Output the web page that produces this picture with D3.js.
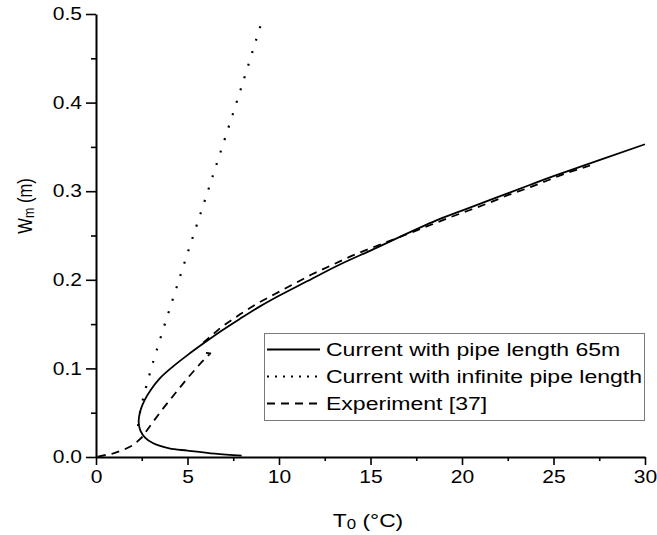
<!DOCTYPE html>
<html>
<head>
<meta charset="utf-8">
<script src="https://cdn.jsdelivr.net/npm/d3@7"></script>
<style>
  html, body { margin: 0; padding: 0; background: #fff; }
  svg text { font-family: "Liberation Sans", Arial, sans-serif; fill: #000; }
</style>
</head>
<body>
<svg id="chart" width="657" height="535"></svg>
<script>
// Freezing depth W_m against inlet temperature T_0
const pipe65T = [7.96, 6.5, 5.0, 4.0, 3.13, 2.68, 2.42, 2.33, 2.42, 2.65, 3.0, 3.5, 4.2, 5.0, 5.86, 6.86, 7.87, 8.96, 10.0, 11.5, 13.3, 15.0, 18.6, 20.0, 23.7, 25.0, 30.0];
const pipe65W = [0.0015, 0.0037, 0.0072, 0.0098, 0.0155, 0.022, 0.030, 0.040, 0.052, 0.064, 0.076, 0.089, 0.102, 0.115, 0.128, 0.1425, 0.156, 0.170, 0.182, 0.198, 0.217, 0.233, 0.267, 0.278, 0.307, 0.317, 0.353];

const infiniteT = [2.3, 2.4, 2.95, 4.59, 6.3, 8.0, 9.02];
const infiniteW = [0.035, 0.05, 0.095, 0.2035, 0.312, 0.421, 0.489];

// measured points; null marks the break between the two measured runs
const experimentT = [0.1, 0.95, 1.5, 2.04, 2.5, 3.13, 3.6, 4.41, 5.0, 5.77, 6.25, 5.75, null, 5.86, 6.87, 7.87, 8.78, 9.78, 10.78, 11.78, 12.88, 13.97, 15.06, 17.0, 19.34, 20.4, 21.44, 22.5, 23.6, 24.6, 25.7, 27.0];
const experimentW = [0.0005, 0.004, 0.008, 0.0135, 0.022, 0.040, 0.053, 0.074, 0.089, 0.107, 0.117, 0.118, null, 0.129, 0.147, 0.161, 0.173, 0.184, 0.195, 0.206, 0.2165, 0.227, 0.236, 0.2515, 0.2705, 0.2785, 0.2865, 0.2955, 0.3035, 0.3115, 0.3205, 0.329];

const xMajorTicks = [0, 5, 10, 15, 20, 25, 30];
const xMinorTicks = [2.5, 7.5, 12.5, 17.5, 22.5, 27.5];
const yMajorTicks = [0.0, 0.1, 0.2, 0.3, 0.4, 0.5];
const yMinorTicks = [0.05, 0.15, 0.25, 0.35, 0.45];

const legendLabels = ["Current with pipe length 65m", "Current with infinite pipe length", "Experiment [37]"];

const svg = d3.select("#chart");
const x = d3.scaleLinear().domain([0, 30]).range([96, 645]);
const y = d3.scaleLinear().domain([0, 0.5]).range([457, 14]);
const WIDE = 1.2; // horizontal stretch applied to all lettering

const zip = (a, b) => a.map((v, i) => [v, b[i]]);
const smooth = d3.line().x(d => x(d[0])).y(d => y(d[1])).curve(d3.curveCatmullRom.alpha(0.5));
const straight = d3.line().defined(d => d[0] != null).x(d => x(d[0])).y(d => y(d[1]));

const series = [
  { pts: zip(pipe65T, pipe65W), gen: smooth, dash: null, width: 1.8, legendDash: null },
  { pts: zip(infiniteT, infiniteW), gen: smooth, dash: "2,11", width: 2.2, legendDash: "2,6" },
  { pts: zip(experimentT, experimentW), gen: straight, dash: "8,6", width: 1.8, legendDash: "8,6" }
];

series.forEach(s => {
  svg.append("path")
    .attr("d", s.gen(s.pts))
    .attr("fill", "none")
    .attr("stroke", "#000")
    .attr("stroke-width", s.width)
    .attr("stroke-linejoin", "round")
    .attr("stroke-dasharray", s.dash);
});

// axes
function styleAxis(g) {
  g.selectAll(".domain").attr("stroke", "#000").attr("stroke-width", 2);
  g.selectAll(".tick line").attr("stroke", "#000").attr("stroke-width", 1.6);
  g.selectAll(".tick text").style("font-size", "17.5px");
}

const xAxis = svg.append("g").attr("transform", `translate(0,${y(0)})`)
  .call(d3.axisBottom(x).tickValues(xMajorTicks).tickSize(8).tickSizeOuter(0).tickPadding(6).tickFormat(d3.format("d")));
styleAxis(xAxis);
xAxis.selectAll(".tick text").attr("transform", `scale(${WIDE},1)`);
svg.append("g").attr("transform", `translate(0,${y(0)})`)
  .call(d3.axisBottom(x).tickValues(xMinorTicks).tickSize(4).tickFormat(""))
  .call(g => g.select(".domain").remove())
  .call(g => g.selectAll(".tick line").attr("stroke", "#000").attr("stroke-width", 1.6));

const yAxis = svg.append("g").attr("transform", `translate(${x(0)},0)`)
  .call(d3.axisLeft(y).tickValues(yMajorTicks).tickSize(10).tickSizeOuter(0).tickPadding(4).tickFormat(d3.format(".1f")));
styleAxis(yAxis);
yAxis.selectAll(".tick text").attr("x", -14 / WIDE).attr("transform", `scale(${WIDE},1)`);
svg.append("g").attr("transform", `translate(${x(0)},0)`)
  .call(d3.axisLeft(y).tickValues(yMinorTicks).tickSize(5).tickFormat(""))
  .call(g => g.select(".domain").remove())
  .call(g => g.selectAll(".tick line").attr("stroke", "#000").attr("stroke-width", 1.6));

// axis titles
const xt = svg.append("text").attr("transform", `translate(368,527) scale(${WIDE},1)`)
  .attr("text-anchor", "middle").style("font-size", "19px");
xt.append("tspan").text("T");
xt.append("tspan").attr("dy", 2).style("font-size", "14px").text("0");
xt.append("tspan").attr("dy", -2).text(" (°C)");

const yt = svg.append("text").attr("transform", `translate(32,206) scale(${WIDE},1) rotate(-90)`)
  .attr("text-anchor", "middle").style("font-size", "16.5px");
yt.append("tspan").text("W");
yt.append("tspan").attr("dy", 2).style("font-size", "12.5px").text("m");
yt.append("tspan").attr("dy", -2).text(" (m)");

// legend
const lg = svg.append("g");
lg.append("rect").attr("x", 264.5).attr("y", 333.5).attr("width", 380).attr("height", 87)
  .attr("fill", "#fff").attr("stroke", "#7a7a7a").attr("stroke-width", 1);
legendLabels.forEach((lab, i) => {
  const cy = 349.5 + i * 27;
  lg.append("line").attr("x1", 267).attr("x2", 320).attr("y1", cy).attr("y2", cy)
    .attr("stroke", "#000").attr("stroke-width", series[i].width).attr("stroke-dasharray", series[i].legendDash);
  lg.append("text").attr("transform", `translate(326,${cy}) scale(${WIDE},1)`)
    .attr("dy", "0.36em").style("font-size", "19.2px").text(lab);
});
</script>
</body>
</html>
